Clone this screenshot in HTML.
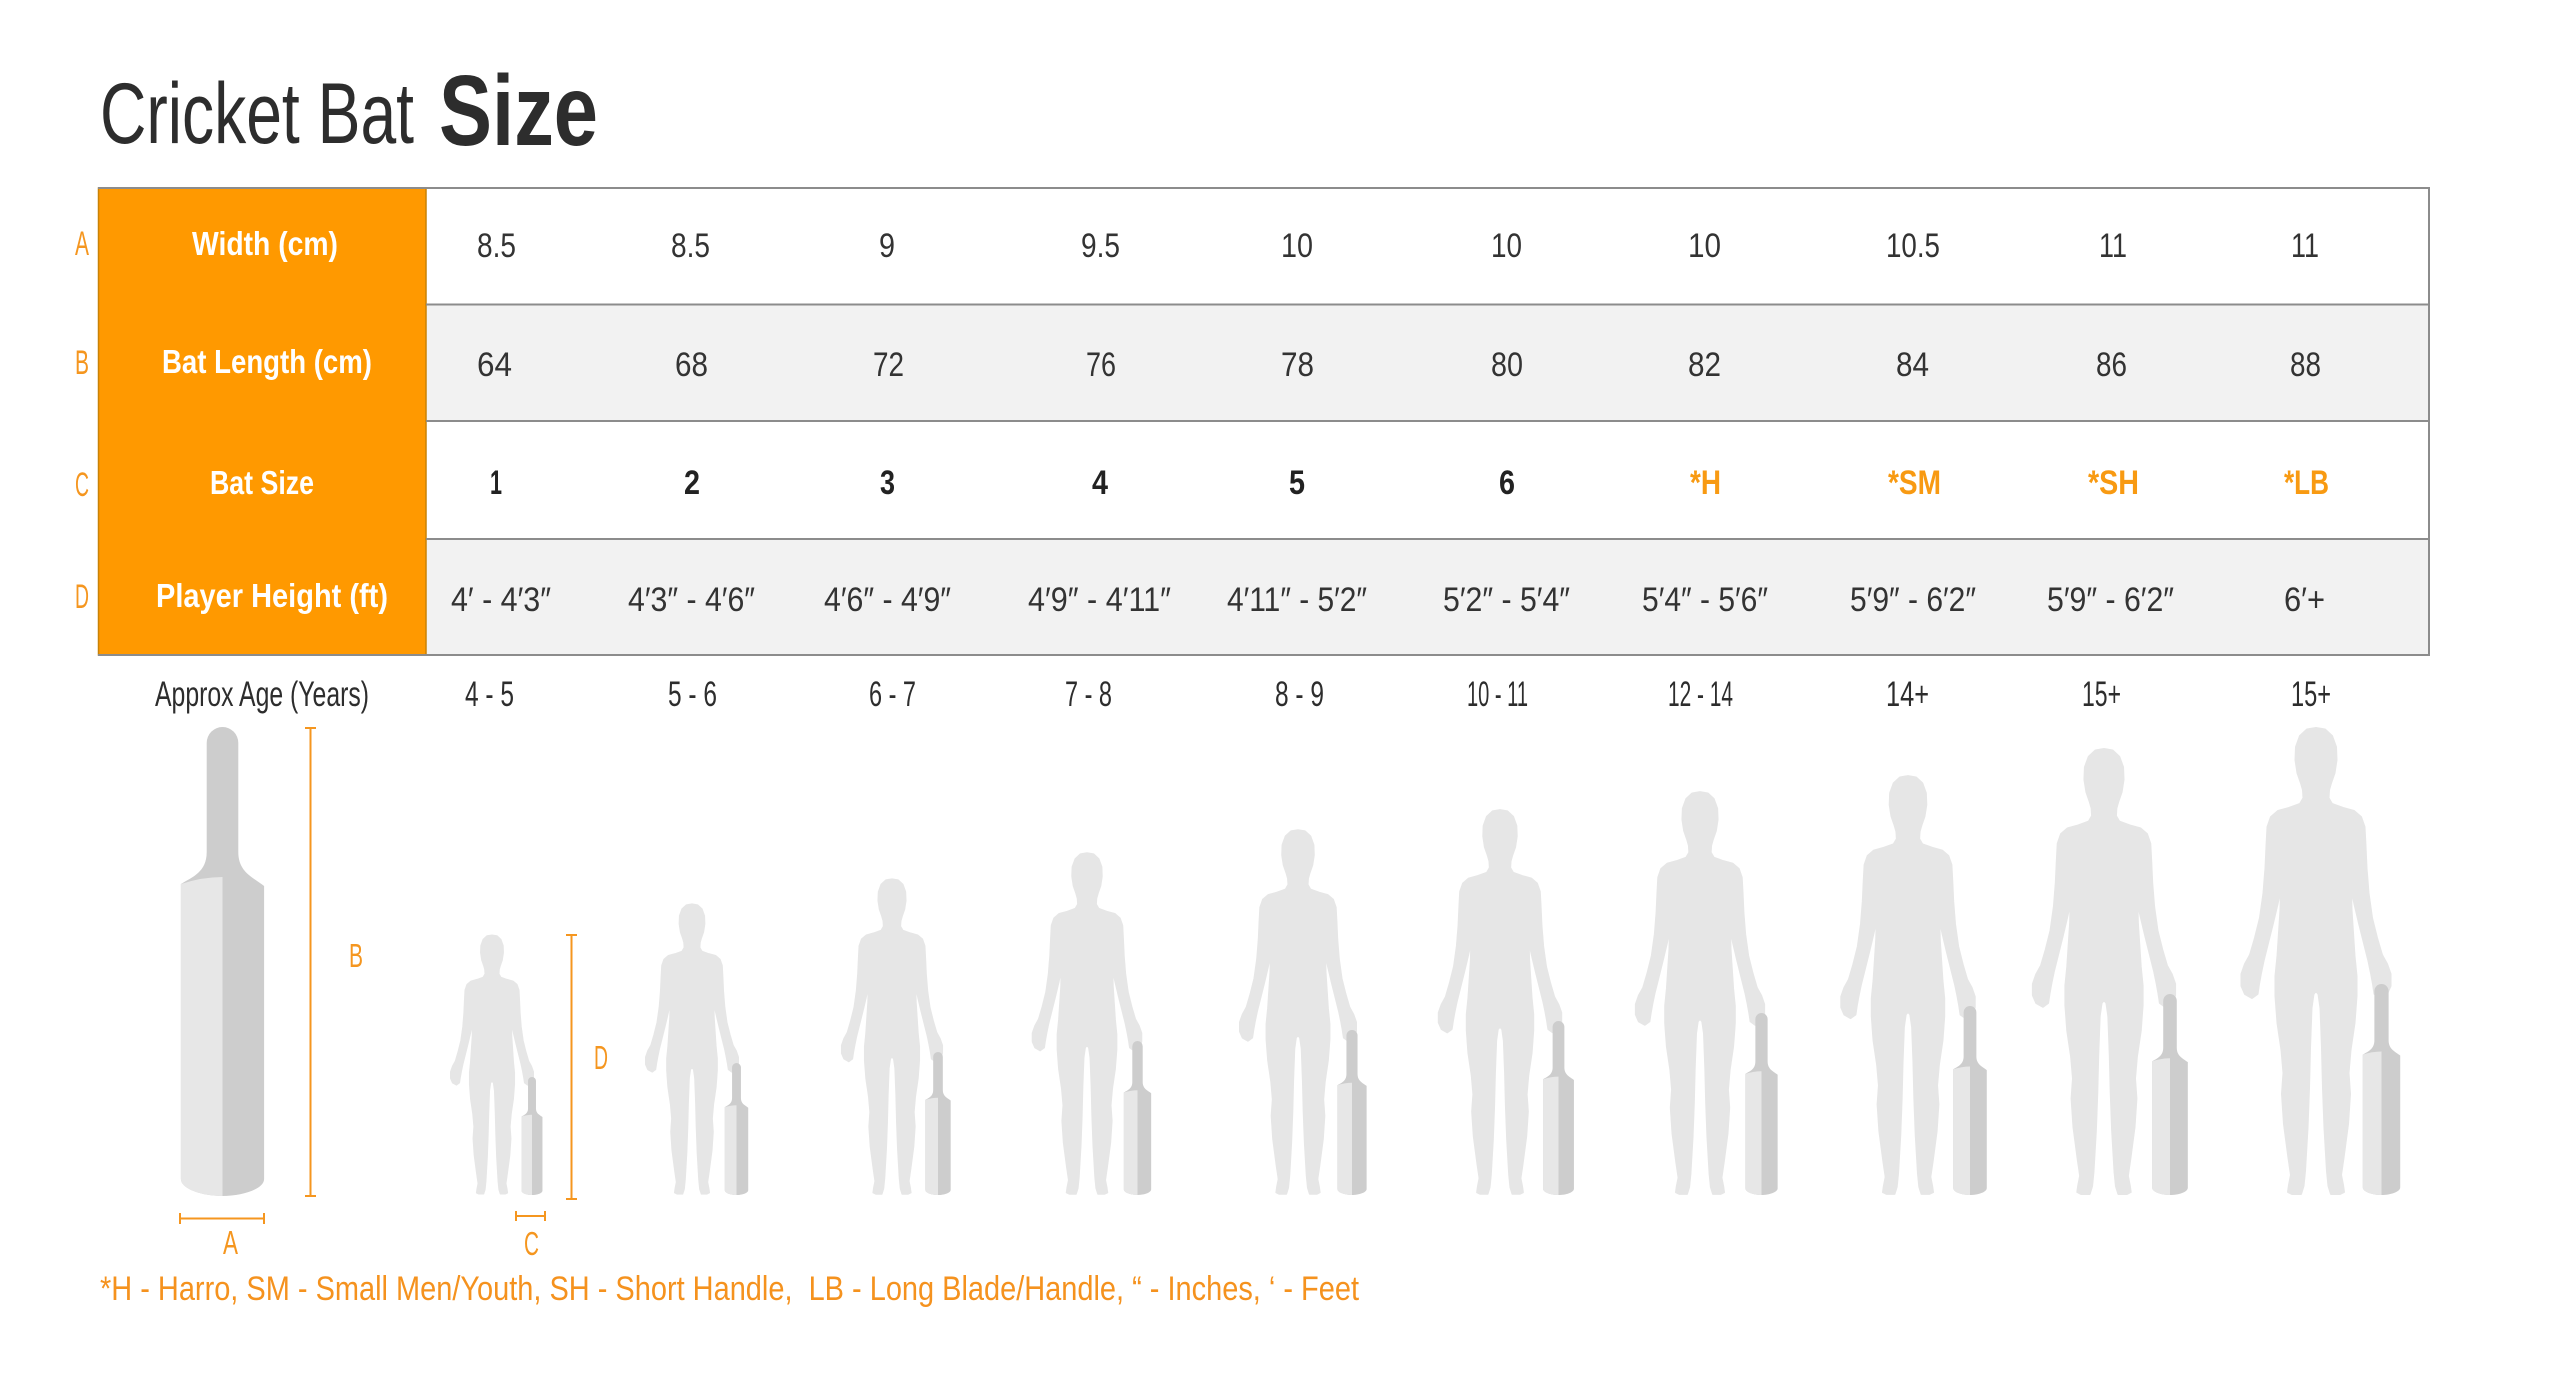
<!DOCTYPE html>
<html>
<head>
<meta charset="utf-8">
<style>
html,body{margin:0;padding:0;background:#fff;}
svg{display:block;}
text{font-family:"Liberation Sans","DejaVu Sans",sans-serif;}
</style>
</head>
<body>
<svg width="2560" height="1386" viewBox="0 0 2560 1386" xmlns="http://www.w3.org/2000/svg">
<defs>
  <path id="fig" d="M0,0 L-9,1.5 L-16,8 L-20,19 L-20.5,32 L-18.5,45 L-15,55 L-13,62 L-12.5,70 L-16,76 L-27,80 L-38,83 L-45,89 L-48.5,99 L-49.5,118 L-50.5,140 L-52.5,165 L-56,190 L-61,210 L-66,227 L-71,236 L-74.5,246 L-74.5,258 L-71,266 L-64,270 L-58.5,266 L-57,256 L-55,245 L-52.5,233 L-48,215 L-43,195 L-38.5,176 L-35,160 L-35.5,182 L-37,205 L-38.5,228 L-40.5,248 L-40.5,268 L-38.5,295 L-34.5,322 L-32.5,345 L-34,366 L-32,396 L-27.5,430 L-25,447 L-27,457 L-28,464 L-24,466 L-15,466 L-12.5,458 L-11,443 L-8.5,400 L-7,360 L-6,320 L-4.5,280 L-2.5,266 L0,263 L2.5,266 L4.5,280 L6,320 L7,360 L8.5,400 L11,443 L12.5,458 L15,466 L24,466 L28,464 L27,457 L25,447 L27.5,430 L32,396 L34,366 L32.5,345 L34.5,322 L38.5,295 L40.5,268 L40.5,248 L38.5,228 L37,205 L35.5,182 L35,160 L38.5,176 L43,195 L48,215 L52.5,233 L55,245 L57,256 L58.5,266 L64,270 L71,266 L74.5,258 L74.5,246 L71,236 L66,227 L61,210 L56,190 L52.5,165 L50.5,140 L49.5,118 L48.5,99 L45,89 L38,83 L27,80 L16,76 L12.5,70 L13,62 L15,55 L18.5,45 L20.5,32 L20,19 L16,8 L9,1.5 Z" fill="#e6e6e6" stroke="#e6e6e6" stroke-width="2" stroke-linejoin="round"/>
  <g id="bat">
    <path d="M-15.8,16 A15.8,16 0 0 1 15.8,16 L15.8,125 C15.8,145 30,150 41.6,159 L41.6,452 C41.6,462 20,469 0,469 C-20,469 -41.6,462 -41.6,452 L-41.6,157 C-30,150 -15.8,145 -15.8,125 Z" fill="#cdcdcd"/>
    <path d="M-41.6,157 Q-20,150 0,150 L0,469 C-20,469 -41.6,462 -41.6,452 Z" fill="#e7e7e7"/>
  </g>
</defs>

<!-- Title -->
<text x="100" y="143" font-size="86" fill="#2d2d2d" textLength="314" lengthAdjust="spacingAndGlyphs">Cricket Bat</text>
<text x="439" y="145" font-size="100" font-weight="bold" fill="#2d2d2d" textLength="159" lengthAdjust="spacingAndGlyphs">Size</text>

<!-- Table rows -->
<rect x="426" y="188" width="2003" height="116" fill="#ffffff"/>
<rect x="426" y="304" width="2003" height="117" fill="#f2f2f2"/>
<rect x="426" y="421" width="2003" height="118" fill="#ffffff"/>
<rect x="426" y="539" width="2003" height="116" fill="#f2f2f2"/>
<rect x="98.5" y="188" width="327.5" height="467" fill="#ff9900" stroke="#c98206" stroke-width="1.5"/>
<g stroke="#8c8c8c" stroke-width="2">
  <line x1="98" y1="188" x2="2430" y2="188"/>
  <line x1="426" y1="304.5" x2="2430" y2="304.5"/>
  <line x1="426" y1="421" x2="2430" y2="421"/>
  <line x1="426" y1="539" x2="2430" y2="539"/>
  <line x1="98" y1="655" x2="2430" y2="655"/>
  <line x1="2429" y1="188" x2="2429" y2="655"/>
</g>

<!-- Row letters -->
<g fill="#f5961f" font-size="34">
  <text x="75" y="255" textLength="14" lengthAdjust="spacingAndGlyphs">A</text>
  <text x="75" y="374" textLength="14" lengthAdjust="spacingAndGlyphs">B</text>
  <text x="75" y="496" textLength="14" lengthAdjust="spacingAndGlyphs">C</text>
  <text x="75" y="608" textLength="14" lengthAdjust="spacingAndGlyphs">D</text>
</g>

<!-- Header labels -->
<g fill="#ffffff" font-size="33" font-weight="bold">
  <text x="192" y="255" textLength="146" lengthAdjust="spacingAndGlyphs">Width (cm)</text>
  <text x="162" y="373" textLength="210" lengthAdjust="spacingAndGlyphs">Bat Length (cm)</text>
  <text x="210" y="494" textLength="104" lengthAdjust="spacingAndGlyphs">Bat Size</text>
  <text x="156" y="607" textLength="232" lengthAdjust="spacingAndGlyphs">Player Height (ft)</text>
</g>

<!-- Row A values -->
<g fill="#333333" font-size="34">
  <text x="477" y="257" textLength="39" lengthAdjust="spacingAndGlyphs">8.5</text>
  <text x="671" y="257" textLength="39" lengthAdjust="spacingAndGlyphs">8.5</text>
  <text x="879" y="257" textLength="16" lengthAdjust="spacingAndGlyphs">9</text>
  <text x="1081" y="257" textLength="39" lengthAdjust="spacingAndGlyphs">9.5</text>
  <text x="1281" y="257" textLength="32" lengthAdjust="spacingAndGlyphs">10</text>
  <text x="1491" y="257" textLength="31" lengthAdjust="spacingAndGlyphs">10</text>
  <text x="1688" y="257" textLength="33" lengthAdjust="spacingAndGlyphs">10</text>
  <text x="1886" y="257" textLength="54" lengthAdjust="spacingAndGlyphs">10.5</text>
  <text x="2099" y="257" textLength="28" lengthAdjust="spacingAndGlyphs">11</text>
  <text x="2291" y="257" textLength="28" lengthAdjust="spacingAndGlyphs">11</text>
</g>

<!-- Row B values -->
<g fill="#333333" font-size="34">
  <text x="477" y="376" textLength="35" lengthAdjust="spacingAndGlyphs">64</text>
  <text x="675" y="376" textLength="33" lengthAdjust="spacingAndGlyphs">68</text>
  <text x="873" y="376" textLength="31" lengthAdjust="spacingAndGlyphs">72</text>
  <text x="1086" y="376" textLength="30" lengthAdjust="spacingAndGlyphs">76</text>
  <text x="1281" y="376" textLength="33" lengthAdjust="spacingAndGlyphs">78</text>
  <text x="1491" y="376" textLength="32" lengthAdjust="spacingAndGlyphs">80</text>
  <text x="1688" y="376" textLength="33" lengthAdjust="spacingAndGlyphs">82</text>
  <text x="1896" y="376" textLength="33" lengthAdjust="spacingAndGlyphs">84</text>
  <text x="2096" y="376" textLength="31" lengthAdjust="spacingAndGlyphs">86</text>
  <text x="2290" y="376" textLength="31" lengthAdjust="spacingAndGlyphs">88</text>
</g>

<!-- Row C values -->
<g font-size="34" font-weight="bold">
  <g fill="#222222">
    <text x="490" y="494" textLength="12" lengthAdjust="spacingAndGlyphs">1</text>
    <text x="684" y="494" textLength="16" lengthAdjust="spacingAndGlyphs">2</text>
    <text x="880" y="494" textLength="15" lengthAdjust="spacingAndGlyphs">3</text>
    <text x="1092" y="494" textLength="16" lengthAdjust="spacingAndGlyphs">4</text>
    <text x="1289" y="494" textLength="16" lengthAdjust="spacingAndGlyphs">5</text>
    <text x="1499" y="494" textLength="16" lengthAdjust="spacingAndGlyphs">6</text>
  </g>
  <g fill="#f89a12">
    <text x="1690" y="494" textLength="31" lengthAdjust="spacingAndGlyphs">*H</text>
    <text x="1888" y="494" textLength="53" lengthAdjust="spacingAndGlyphs">*SM</text>
    <text x="2088" y="494" textLength="51" lengthAdjust="spacingAndGlyphs">*SH</text>
    <text x="2284" y="494" textLength="45" lengthAdjust="spacingAndGlyphs">*LB</text>
  </g>
</g>

<!-- Row D values -->
<g fill="#333333" font-size="34">
  <text x="451" y="611" textLength="100" lengthAdjust="spacingAndGlyphs">4′ - 4′3″</text>
  <text x="628" y="611" textLength="127" lengthAdjust="spacingAndGlyphs">4′3″ - 4′6″</text>
  <text x="824" y="611" textLength="127" lengthAdjust="spacingAndGlyphs">4′6″ - 4′9″</text>
  <text x="1028" y="611" textLength="143" lengthAdjust="spacingAndGlyphs">4′9″ - 4′11″</text>
  <text x="1227" y="611" textLength="140" lengthAdjust="spacingAndGlyphs">4′11″ - 5′2″</text>
  <text x="1443" y="611" textLength="127" lengthAdjust="spacingAndGlyphs">5′2″ - 5′4″</text>
  <text x="1642" y="611" textLength="126" lengthAdjust="spacingAndGlyphs">5′4″ - 5′6″</text>
  <text x="1850" y="611" textLength="126" lengthAdjust="spacingAndGlyphs">5′9″ - 6′2″</text>
  <text x="2047" y="611" textLength="127" lengthAdjust="spacingAndGlyphs">5′9″ - 6′2″</text>
  <text x="2284" y="611" textLength="41" lengthAdjust="spacingAndGlyphs">6′+</text>
</g>

<!-- Age row -->
<g fill="#2d2d2d" font-size="35">
  <text x="155" y="706" textLength="214" lengthAdjust="spacingAndGlyphs">Approx Age (Years)</text>
  <text x="465" y="706" textLength="49" lengthAdjust="spacingAndGlyphs">4 - 5</text>
  <text x="668" y="706" textLength="49" lengthAdjust="spacingAndGlyphs">5 - 6</text>
  <text x="869" y="706" textLength="47" lengthAdjust="spacingAndGlyphs">6 - 7</text>
  <text x="1065" y="706" textLength="47" lengthAdjust="spacingAndGlyphs">7 - 8</text>
  <text x="1275" y="706" textLength="49" lengthAdjust="spacingAndGlyphs">8 - 9</text>
  <text x="1467" y="706" textLength="61" lengthAdjust="spacingAndGlyphs">10 - 11</text>
  <text x="1668" y="706" textLength="65" lengthAdjust="spacingAndGlyphs">12 - 14</text>
  <text x="1886" y="706" textLength="43" lengthAdjust="spacingAndGlyphs">14+</text>
  <text x="2082" y="706" textLength="39" lengthAdjust="spacingAndGlyphs">15+</text>
  <text x="2291" y="706" textLength="40" lengthAdjust="spacingAndGlyphs">15+</text>
</g>

<!-- Big bat -->
<use href="#bat" transform="translate(222.5,727)"/>

<!-- Figures -->
<use href="#fig" transform="translate(492,935) scale(0.5558)"/>
<use href="#fig" transform="translate(692,904) scale(0.6223)"/>
<use href="#fig" transform="translate(892,879) scale(0.6760)"/>
<use href="#fig" transform="translate(1087,853) scale(0.7318)"/>
<use href="#fig" transform="translate(1298,830) scale(0.7811)"/>
<use href="#fig" transform="translate(1500,810) scale(0.8240)"/>
<use href="#fig" transform="translate(1700,792) scale(0.8627)"/>
<use href="#fig" transform="translate(1908,776) scale(0.8970)"/>
<use href="#fig" transform="translate(2104,749) scale(0.9549)"/>
<use href="#fig" transform="translate(2316,728) scale(1.0)"/>

<!-- Small bats -->
<use href="#bat" transform="translate(532,1077) scale(0.2516)"/>
<use href="#bat" transform="translate(736.5,1063) scale(0.2814)"/>
<use href="#bat" transform="translate(938,1052) scale(0.3049)"/>
<use href="#bat" transform="translate(1137.5,1041) scale(0.3284)"/>
<use href="#bat" transform="translate(1352,1030) scale(0.3518)"/>
<use href="#bat" transform="translate(1558.5,1021) scale(0.3710)"/>
<use href="#bat" transform="translate(1761.5,1013) scale(0.3881)"/>
<use href="#bat" transform="translate(1970,1006) scale(0.4030)"/>
<use href="#bat" transform="translate(2170,994) scale(0.4286)"/>
<use href="#bat" transform="translate(2381.5,984) scale(0.4499)"/>

<!-- Measurement lines -->
<g stroke="#f5961f" stroke-width="2" fill="none">
  <line x1="310.5" y1="728" x2="310.5" y2="1196"/>
  <line x1="305" y1="728" x2="316" y2="728"/>
  <line x1="305" y1="1196" x2="316" y2="1196"/>

  <line x1="571.5" y1="935" x2="571.5" y2="1199"/>
  <line x1="566" y1="935" x2="577" y2="935"/>
  <line x1="566" y1="1199" x2="577" y2="1199"/>

  <line x1="180" y1="1218.5" x2="264" y2="1218.5"/>
  <line x1="180" y1="1213" x2="180" y2="1224"/>
  <line x1="264" y1="1213" x2="264" y2="1224"/>

  <line x1="516" y1="1216" x2="545" y2="1216"/>
  <line x1="516" y1="1211" x2="516" y2="1221"/>
  <line x1="545" y1="1211" x2="545" y2="1221"/>
</g>
<g fill="#f5961f" font-size="33">
  <text x="349" y="967" textLength="14" lengthAdjust="spacingAndGlyphs">B</text>
  <text x="594" y="1069" textLength="14" lengthAdjust="spacingAndGlyphs">D</text>
  <text x="223" y="1254" textLength="15" lengthAdjust="spacingAndGlyphs">A</text>
  <text x="524" y="1255" textLength="15" lengthAdjust="spacingAndGlyphs">C</text>
</g>

<!-- Footnote -->
<text x="100" y="1300" font-size="34" fill="#f5921e" textLength="1259" lengthAdjust="spacingAndGlyphs">*H - Harro, SM - Small Men/Youth, SH - Short Handle,&#160; LB - Long Blade/Handle, “ - Inches, ‘ - Feet</text>
</svg>
</body>
</html>
